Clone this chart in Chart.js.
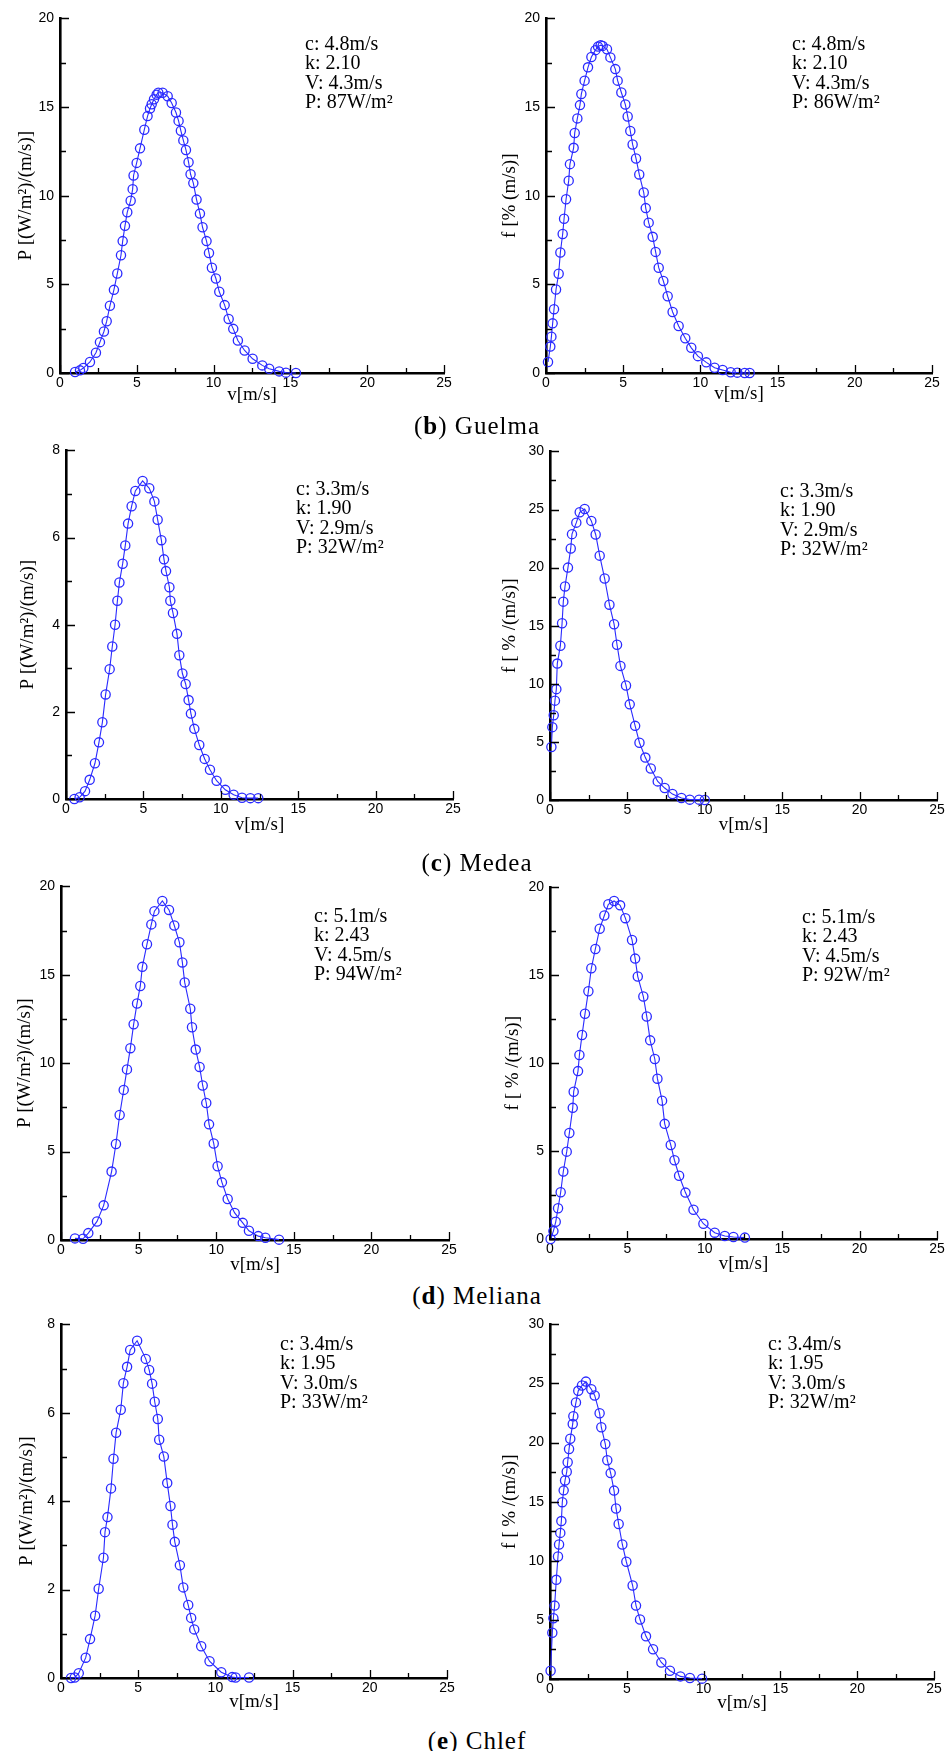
<!DOCTYPE html>
<html><head><meta charset="utf-8">
<script src="https://cdn.jsdelivr.net/npm/chart.js@4/dist/chart.umd.min.js"></script>
<style>
html,body{margin:0;padding:0;background:#fff;}
body{width:949px;height:1751px;position:relative;overflow:hidden;}
.panel{position:absolute;}
.cap{position:absolute;font-family:"Liberation Serif",serif;font-size:25px;letter-spacing:1px;color:#000;white-space:nowrap;transform:translate(-50%,-50%);line-height:1;}
</style></head><body>
<div id="root"></div>
<script>
// ---------- data ----------
const stations = ['Guelma', 'Medea', 'Meliana', 'Chlef'];
const captionLetters = ['b', 'c', 'd', 'e'];

const guelmaPowerSpeed = [0.98,1.30,1.52,1.95,2.34,2.60,2.86,3.04,3.25,3.51,3.73,3.97,4.08,4.23,4.38,4.60,4.73,4.79,4.99,5.21,5.49,5.70,5.86,5.97,6.12,6.29,6.40,6.68,7.01,7.27,7.55,7.72,7.87,8.03,8.20,8.37,8.50,8.68,8.89,9.11,9.28,9.54,9.70,9.89,10.15,10.37,10.72,10.98,11.28,11.58,12.02,12.54,13.17,13.62,14.27,14.71,15.36];
const guelmaPowerDensity = [0.06,0.15,0.28,0.62,1.14,1.74,2.34,2.92,3.79,4.69,5.61,6.64,7.44,8.30,9.07,9.72,10.37,11.14,11.85,12.67,13.72,14.49,14.92,15.16,15.44,15.70,15.81,15.81,15.61,15.23,14.69,14.22,13.66,13.12,12.58,11.89,11.21,10.71,9.78,8.99,8.22,7.44,6.77,5.94,5.33,4.58,3.83,3.05,2.49,1.83,1.27,0.80,0.43,0.24,0.09,0.02,0.00];
const guelmaFreqSpeed = [0.13,0.28,0.35,0.43,0.52,0.65,0.82,0.93,1.08,1.17,1.30,1.47,1.55,1.79,1.86,2.03,2.20,2.29,2.50,2.72,2.94,3.20,3.37,3.54,3.67,3.95,4.17,4.49,4.64,4.88,5.14,5.29,5.46,5.61,5.83,6.04,6.33,6.46,6.65,6.91,7.10,7.30,7.60,7.88,8.20,8.59,9.02,9.41,9.84,10.38,10.92,11.44,11.96,12.39,12.87,13.19];
const guelmaFreqValue = [0.62,1.49,2.05,2.80,3.60,4.71,5.60,6.80,7.84,8.70,9.80,10.85,11.78,12.70,13.54,14.36,15.11,15.74,16.49,17.24,17.82,18.21,18.41,18.49,18.45,18.26,17.80,17.14,16.49,15.82,15.14,14.47,13.65,12.89,12.10,11.20,10.18,9.30,8.48,7.68,6.83,5.94,5.19,4.33,3.44,2.65,1.96,1.42,0.95,0.60,0.30,0.17,0.04,0.02,0.00,0.00];

const medeaPowerSpeed = [0.54,0.88,1.23,1.53,1.87,2.13,2.35,2.56,2.82,2.99,3.17,3.32,3.45,3.66,3.83,4.01,4.24,4.48,4.95,5.38,5.71,5.92,6.16,6.33,6.46,6.68,6.74,6.91,7.17,7.32,7.52,7.73,7.92,8.07,8.29,8.61,8.96,9.30,9.73,10.29,10.83,11.37,11.91,12.42];
const medeaPowerDensity = [0.00,0.04,0.18,0.44,0.82,1.30,1.76,2.40,2.98,3.50,4.00,4.55,4.97,5.40,5.82,6.32,6.72,7.07,7.30,7.13,6.83,6.41,5.94,5.50,5.23,4.86,4.55,4.27,3.79,3.30,2.88,2.64,2.27,1.96,1.61,1.24,0.92,0.67,0.42,0.21,0.10,0.03,0.02,0.02];
const medeaFreqSpeed = [0.09,0.15,0.24,0.32,0.41,0.47,0.67,0.78,0.86,0.97,1.16,1.34,1.42,1.70,1.92,2.24,2.67,2.95,3.21,3.53,3.84,4.14,4.33,4.55,4.91,5.15,5.50,5.78,6.16,6.51,6.96,7.41,7.91,8.49,9.03,9.63,10.0];
const medeaFreqValue = [4.56,6.27,7.29,8.55,9.54,11.74,13.28,15.21,17.07,18.38,20.0,21.65,22.88,23.87,24.76,25.04,24.02,22.85,21.03,19.06,16.81,15.13,13.36,11.54,9.86,8.23,6.38,4.93,3.65,2.71,1.60,1.03,0.51,0.17,0.03,0.03,0.0];

const melianaPowerSpeed = [0.90,1.42,1.76,2.32,2.75,3.26,3.54,3.78,4.04,4.25,4.47,4.68,4.90,5.11,5.24,5.54,5.82,6.02,6.53,6.96,7.30,7.63,7.82,7.97,8.33,8.44,8.68,8.93,9.13,9.36,9.54,9.84,10.09,10.37,10.74,11.19,11.71,12.11,12.71,13.17,14.05];
const melianaPowerDensity = [0.09,0.07,0.39,1.05,1.96,3.87,5.43,7.07,8.49,9.65,10.85,12.20,13.38,14.37,15.45,16.73,17.85,18.60,19.18,18.67,17.79,16.84,15.70,14.57,13.08,12.03,10.77,9.79,8.74,7.75,6.54,5.46,4.17,3.26,2.32,1.53,0.97,0.52,0.22,0.13,0.02];
const melianaFreqSpeed = [0.04,0.22,0.37,0.52,0.69,0.86,1.08,1.25,1.47,1.53,1.81,1.90,2.07,2.26,2.48,2.67,2.93,3.21,3.51,3.77,4.14,4.53,4.87,5.30,5.50,5.67,6.03,6.25,6.47,6.77,6.94,7.24,7.41,7.80,8.04,8.34,8.75,9.27,9.91,10.64,11.29,11.85,12.59];
const melianaFreqValue = [0.0,0.45,0.98,1.75,2.66,3.84,4.97,6.03,7.46,8.38,9.55,10.47,11.60,12.81,14.09,15.40,16.50,17.65,18.40,19.04,19.23,18.98,18.25,17.01,15.95,14.93,13.79,12.66,11.30,10.24,9.12,7.87,6.55,5.35,4.48,3.60,2.64,1.66,0.87,0.36,0.17,0.11,0.08];

const chlefPowerSpeed = [0.65,0.89,1.15,1.60,1.88,2.21,2.44,2.75,2.85,3.01,3.24,3.40,3.57,3.87,4.04,4.28,4.48,4.93,5.49,5.71,5.90,6.07,6.27,6.36,6.66,6.88,7.09,7.22,7.37,7.70,7.92,8.24,8.43,8.63,9.08,9.62,10.38,11.09,11.31,12.18];
const chlefPowerDensity = [0.0,0.01,0.11,0.46,0.88,1.41,2.02,2.72,3.30,3.64,4.29,4.96,5.55,6.07,6.67,7.04,7.42,7.63,7.22,6.97,6.66,6.25,5.86,5.39,5.01,4.41,3.89,3.47,3.08,2.55,2.05,1.65,1.36,1.10,0.72,0.38,0.13,0.02,0.01,0.01];
const chlefFreqSpeed = [0.04,0.15,0.22,0.30,0.41,0.52,0.59,0.67,0.74,0.80,0.89,0.98,1.09,1.15,1.24,1.32,1.48,1.52,1.69,1.84,2.08,2.34,2.69,2.91,3.23,3.34,3.60,3.73,3.95,4.17,4.30,4.47,4.71,4.97,5.38,5.60,5.86,6.25,6.71,7.25,7.81,8.49,9.11,9.90];
const chlefFreqValue = [0.70,3.91,5.14,6.21,8.39,10.37,11.38,12.36,13.36,14.96,15.96,16.80,17.53,18.34,19.46,20.32,21.58,22.23,23.40,24.38,24.83,25.16,24.52,23.99,22.48,21.30,19.88,18.51,17.42,15.94,14.43,13.11,11.38,9.92,7.91,6.21,5.03,3.61,2.52,1.40,0.70,0.22,0.08,0.03];

const guelmaPowerNotes = ['c: 4.8m/s', 'k: 2.10', 'V: 4.3m/s', 'P: 87W/m²'];
const guelmaFreqNotes  = ['c: 4.8m/s', 'k: 2.10', 'V: 4.3m/s', 'P: 86W/m²'];
const medeaPowerNotes  = ['c: 3.3m/s', 'k: 1.90', 'V: 2.9m/s', 'P: 32W/m²'];
const medeaFreqNotes   = ['c: 3.3m/s', 'k: 1.90', 'V: 2.9m/s', 'P: 32W/m²'];
const melianaPowerNotes = ['c: 5.1m/s', 'k: 2.43', 'V: 4.5m/s', 'P: 94W/m²'];
const melianaFreqNotes  = ['c: 5.1m/s', 'k: 2.43', 'V: 4.5m/s', 'P: 92W/m²'];
const chlefPowerNotes  = ['c: 3.4m/s', 'k: 1.95', 'V: 3.0m/s', 'P: 33W/m²'];
const chlefFreqNotes   = ['c: 3.4m/s', 'k: 1.95', 'V: 3.0m/s', 'P: 32W/m²'];

const xTitle = 'v[m/s]';
const powerTitle = 'P [(W/m²)/(m/s)]';
const freqTitleA = 'f [% (m/s)]';
const freqTitleB = 'f [ % /(m/s)]';

// ---------- layout ----------
const BLUE = '#2a2aff';
const panels = [
  {L:60,  R:444, T:16,   B:373,  yMax:20, yStep:5, yMinor:2.5, xs:guelmaPowerSpeed,  ys:guelmaPowerDensity,  yt:powerTitle, ytGap:34, xtGap:22, notes:guelmaPowerNotes,  nx:245, ny:26},
  {L:546, R:932, T:16,   B:373,  yMax:20, yStep:5, yMinor:2.5, xs:guelmaFreqSpeed,   ys:guelmaFreqValue,     yt:freqTitleA, ytGap:36, xtGap:21, notes:guelmaFreqNotes,   nx:246, ny:26},
  {L:66,  R:453, T:448,  B:799,  yMax:8,  yStep:2, yMinor:1,   xs:medeaPowerSpeed,   ys:medeaPowerDensity,   yt:powerTitle, ytGap:38, xtGap:26, notes:medeaPowerNotes,   nx:230, ny:39},
  {L:550, R:937, T:449,  B:800,  yMax:30, yStep:5, yMinor:2.5, xs:medeaFreqSpeed,    ys:medeaFreqValue,      yt:freqTitleB, ytGap:40, xtGap:25, notes:medeaFreqNotes,    nx:230, ny:40},
  {L:61,  R:449, T:884,  B:1240, yMax:20, yStep:5, yMinor:2.5, xs:melianaPowerSpeed, ys:melianaPowerDensity, yt:powerTitle, ytGap:36, xtGap:25, notes:melianaPowerNotes, nx:253, ny:30},
  {L:550, R:937, T:885,  B:1239, yMax:20, yStep:5, yMinor:2.5, xs:melianaFreqSpeed,  ys:melianaFreqValue,    yt:freqTitleB, ytGap:37, xtGap:25, notes:melianaFreqNotes,  nx:252, ny:30},
  {L:61,  R:447, T:1322, B:1678, yMax:8,  yStep:2, yMinor:1,   xs:chlefPowerSpeed,   ys:chlefPowerDensity,   yt:powerTitle, ytGap:34, xtGap:24, notes:chlefPowerNotes,   nx:219, ny:20},
  {L:550, R:934, T:1322, B:1679, yMax:30, yStep:5, yMinor:2.5, xs:chlefFreqSpeed,    ys:chlefFreqValue,      yt:freqTitleB, ytGap:40, xtGap:24, notes:chlefFreqNotes,    nx:218, ny:20}
];
const captions = [{x:477, y:425}, {x:477, y:862}, {x:477, y:1295}, {x:477, y:1740}];

const ML = 60, MT = 12, MR = 16, MB = 40;

const innerTicks = {
  id: 'innerTicks',
  afterDraw(chart, args, opts) {
    const {ctx, chartArea: a, scales: {x, y}} = chart;
    ctx.save();
    ctx.strokeStyle = '#000';
    ctx.lineWidth = 1.3;
    ctx.beginPath();
    for (let v = 0; v <= 25 + 1e-9; v += 2.5) {
      const px = Math.round(x.getPixelForValue(v)) + 0.5;
      const major = Math.abs(v / 5 - Math.round(v / 5)) < 1e-6;
      ctx.moveTo(px, a.bottom);
      ctx.lineTo(px, a.bottom - (major ? 8 : 5));
    }
    for (let v = 0; v <= opts.yMax + 1e-9; v += opts.yMinor) {
      const py = Math.round(y.getPixelForValue(v)) + 0.5;
      const major = Math.abs(v / opts.yStep - Math.round(v / opts.yStep)) < 1e-6;
      ctx.moveTo(a.left, py);
      ctx.lineTo(a.left + (major ? 9 : 6), py);
    }
    ctx.stroke();
    ctx.fillStyle = '#000';
    ctx.font = '20px "Liberation Serif", serif';
    ctx.textBaseline = 'middle';
    ctx.textAlign = 'left';
    opts.notes.forEach((t, i) => ctx.fillText(t, a.left + opts.nx, a.top + opts.ny + i * 19.6));
    ctx.restore();
  }
};

const root = document.getElementById('root');
panels.forEach((p, i) => {
  const W = p.R - p.L + ML + MR;
  const H = p.B - p.T + MT + MB;
  const div = document.createElement('div');
  div.className = 'panel';
  div.style.left = (p.L - ML) + 'px';
  div.style.top = (p.T - MT) + 'px';
  div.style.width = W + 'px';
  div.style.height = H + 'px';
  const cv = document.createElement('canvas');
  cv.width = W; cv.height = H;
  cv.style.width = W + 'px'; cv.style.height = H + 'px';
  div.appendChild(cv);
  root.appendChild(div);
  const tickFont = {family: '"Liberation Sans", Arial, sans-serif', size: 14};
  const titleFont = {family: '"Liberation Serif", serif', size: 19};
  new Chart(cv, {
    type: 'scatter',
    data: {
      datasets: [{
        data: p.xs.map((v, k) => ({x: v, y: p.ys[k]})),
        showLine: true,
        borderColor: BLUE,
        borderWidth: 1.1,
        tension: 0,
        pointRadius: 4.6,
        pointHoverRadius: 4.6,
        pointBorderWidth: 1.3,
        pointBorderColor: BLUE,
        pointBackgroundColor: 'rgba(0,0,0,0)',
        clip: false
      }]
    },
    options: {
      responsive: false,
      animation: false,
      devicePixelRatio: 1,
      layout: {padding: {left: 0, top: MT, right: MR, bottom: 0}},
      plugins: {
        legend: {display: false},
        tooltip: {enabled: false},
        innerTicks: {yMax: p.yMax, yStep: p.yStep, yMinor: p.yMinor, notes: p.notes, nx: p.nx, ny: p.ny}
      },
      scales: {
        x: {
          type: 'linear', min: 0, max: 25,
          afterFit: s => { s.height = MB; },
          ticks: {stepSize: 5, padding: 2, color: '#000', font: tickFont, maxRotation: 0, autoSkip: false},
          grid: {drawOnChartArea: false, drawTicks: false},
          border: {color: '#000', width: 2.6},
          title: {display: true, text: xTitle, color: '#000', font: titleFont,
                  padding: {top: 0, bottom: MB - p.xtGap - 11.4}}
        },
        y: {
          type: 'linear', min: 0, max: p.yMax,
          afterFit: s => { s.width = ML; },
          ticks: {stepSize: p.yStep, padding: 6, color: '#000', font: tickFont},
          grid: {drawOnChartArea: false, drawTicks: false},
          border: {color: '#000', width: 2.6},
          title: {display: true, text: p.yt, color: '#000', font: titleFont,
                  padding: {top: ML - p.ytGap - 11.4, bottom: 0}}
        }
      }
    },
    plugins: [innerTicks]
  });
});

captions.forEach((c, i) => {
  const d = document.createElement('div');
  d.className = 'cap';
  d.style.left = c.x + 'px';
  d.style.top = c.y + 'px';
  d.innerHTML = '(<b>' + captionLetters[i] + '</b>) ' + stations[i];
  document.body.appendChild(d);
});
</script>
</body></html>
